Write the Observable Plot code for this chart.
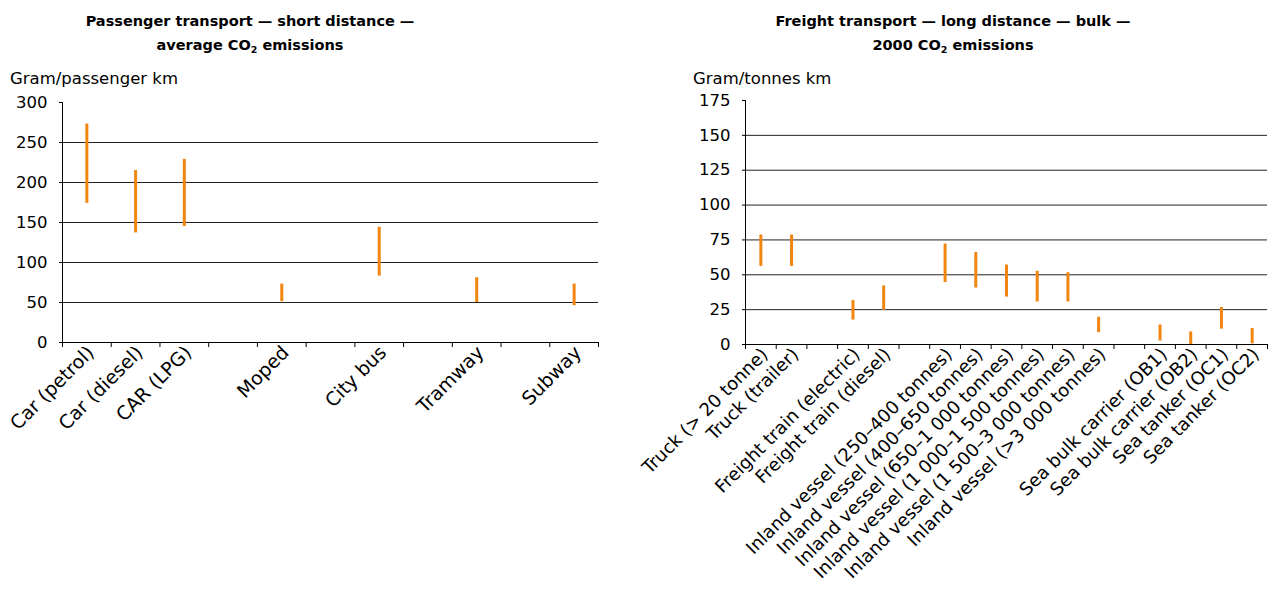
<!DOCTYPE html>
<html>
<head>
<meta charset="utf-8">
<script src="https://cdn.jsdelivr.net/npm/d3@7"></script>
<script src="https://cdn.jsdelivr.net/npm/@observablehq/plot@0.6"></script>
<style>
  html, body { margin: 0; padding: 0; background: #fff; }
  #root { position: relative; width: 1274px; height: 595px; font-family: "DejaVu Sans", Verdana, sans-serif; color: #000; }
  .title { position: absolute; font-weight: bold; font-size: 14.5px; line-height: 24px; text-align: center; }
  .title sub { font-size: 9.5px; vertical-align: -3px; line-height: 0; }
  .ylab { position: absolute; font-size: 16.5px; line-height: 16px; white-space: nowrap; }
  .chart { position: absolute; top: 0; }
</style>
</head>
<body>
<div id="root">
  <div class="title" style="left:0px; top:9px; width:500px;">Passenger transport — short distance —<br>average CO<sub>2</sub> emissions</div>
  <div class="ylab" style="left:10px; top:71px;">Gram/passenger km</div>
  <div class="title" style="left:703px; top:9px; width:500px;">Freight transport — long distance — bulk —<br>2000 CO<sub>2</sub> emissions</div>
  <div class="ylab" style="left:693px; top:71px;">Gram/tonnes km</div>
  <div class="chart" id="left" style="left:0px;"></div>
  <div class="chart" id="right" style="left:660px;"></div>
</div>
<script>
// Passenger transport — short distance (gram/passenger km)
const passCategories = ["Car (petrol)", "Car (diesel)", "CAR (LPG)", "", "Moped", "", "City bus", "", "Tramway", "", "Subway"];
const passLow  = [174, 137, 145, null, 51, null, 83, null, 50, null, 46];
const passHigh = [273, 215, 229, null, 73, null, 144, null, 81, null, 73];
const passTicks = [0, 50, 100, 150, 200, 250, 300];

// Freight transport — long distance — bulk (gram/tonnes km)
const freightCategories = [
  "Truck (> 20 tonne)", "Truck (trailer)", "",
  "Freight train (electric)", "Freight train (diesel)", "",
  "Inland vessel (250–400 tonnes)", "Inland vessel (400–650 tonnes)", "Inland vessel (650–1 000 tonnes)",
  "Inland vessel (1 000–1 500 tonnes)", "Inland vessel (1 500–3 000 tonnes)", "Inland vessel (>3 000 tonnes)", "",
  "Sea bulk carrier (OB1)", "Sea bulk carrier (OB2)", "Sea tanker (OC1)", "Sea tanker (OC2)"
];
const freightLow  = [56, 56, null, 17.5, 24.5, null, 44.5, 40.5, 34, 30.5, 30.5, 8.5, null, 2.5, 0, 11, 0.5];
const freightHigh = [78.5, 78.5, null, 31.5, 42, null, 72, 66, 57, 52.5, 51.5, 19.5, null, 14, 9, 26.5, 11.5];
const freightTicks = [0, 25, 50, 75, 100, 125, 150, 175];

const ORANGE = "#f0850f";

function chart({cats, low, high, ticks, width, mL, mR, mT, mB, labelSize}) {
  const n = cats.length;
  const yMax = ticks[ticks.length - 1];
  const data = cats.map((c, i) => ({i, c, lo: low[i], hi: high[i]})).filter(d => d.lo != null);
  return Plot.plot({
    width, height: 595,
    marginLeft: mL, marginRight: mR, marginTop: mT, marginBottom: mB,
    style: {fontFamily: '"DejaVu Sans", Verdana, sans-serif', fontSize: "16px", color: "#000", background: "transparent", overflow: "visible"},
    x: {type: "linear", domain: [0, n], axis: null},
    y: {type: "linear", domain: [0, yMax], axis: null},
    marks: [
      Plot.ruleY(ticks.slice(1, -1), {stroke: "#222", strokeWidth: 1}),
      Plot.axisY({ticks, tickSize: 3, tickPadding: 12, label: null, fontSize: 16.5, tickFormat: d => String(d)}),
      Plot.ruleX([0], {stroke: "#000"}),
      Plot.ruleY([0], {stroke: "#000"}),
      Plot.axisX({ticks: d3.range(0, n + 1), tickSize: 5, tickFormat: () => "", label: null}),
      Plot.axisX({ticks: d3.range(n).map(i => i + 0.5), tickSize: 0, tickPadding: 7, tickRotate: -45, fontSize: labelSize, dx: 4,
                  tickFormat: v => cats[Math.floor(v)], label: null}),
      Plot.ruleX(data, {x: d => d.i + 0.5, y1: "lo", y2: "hi", stroke: ORANGE, strokeWidth: 3})
    ]
  });
}

document.getElementById("left").appendChild(chart({
  cats: passCategories, low: passLow, high: passHigh, ticks: passTicks,
  width: 620, mL: 62, mR: 22, mT: 102, mB: 253, labelSize: 19
}));
document.getElementById("right").appendChild(chart({
  cats: freightCategories, low: freightLow, high: freightHigh, ticks: freightTicks,
  width: 614, mL: 85, mR: 7, mT: 100, mB: 251, labelSize: 18
}));
</script>
</body>
</html>
